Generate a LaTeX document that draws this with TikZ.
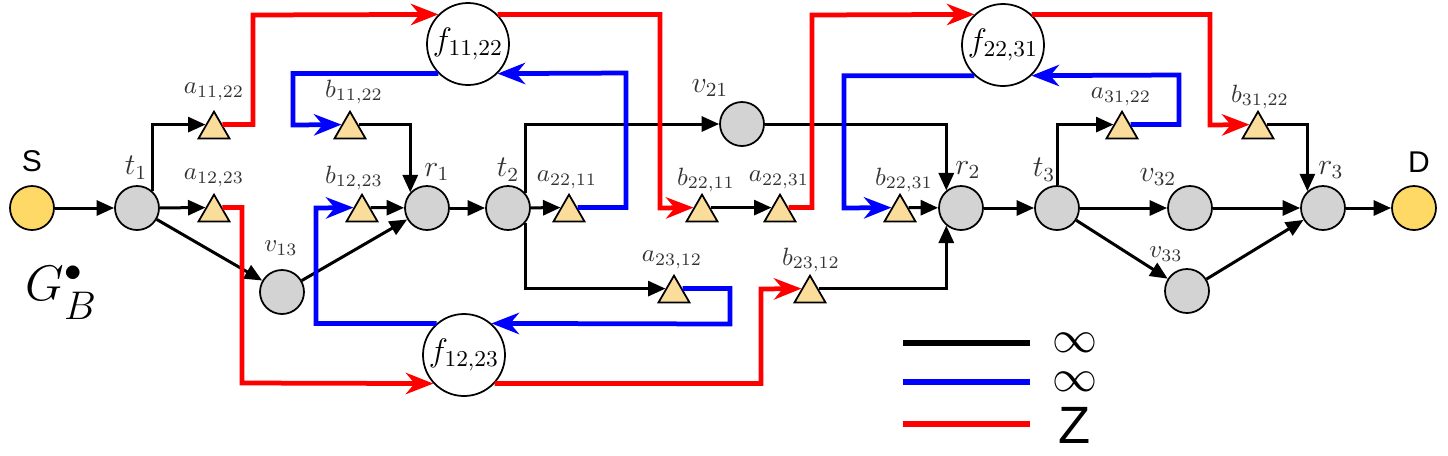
\RequirePackage{fix-cm}
\documentclass[tikz,border=0pt]{standalone}
\usepackage{fontspec}
\newfontfamily\sansf{Liberation Sans}
\usetikzlibrary{arrows.meta,shapes.geometric,calc}
\definecolor{nodegray}{RGB}{211,211,211}
\definecolor{gold}{RGB}{255,217,102}
\definecolor{trifill}{RGB}{250,220,155}
\tikzset{
 vtx/.style={circle, draw, line width=0.7pt, fill=nodegray, minimum size=17.6pt, inner sep=0pt},
 term/.style={vtx, fill=gold},
 fnode/.style={circle, draw, line width=0.7pt, fill=white, minimum size=32.8pt, inner sep=0pt, font=\fontsize{13}{15}\selectfont},
 tri/.style={regular polygon, regular polygon sides=3, draw, line width=0.7pt, fill=trifill, minimum size=14.3pt, inner sep=0pt},
 lbl/.style={text=black!80, font=\normalsize, inner sep=0pt},
 lbll/.style={lbl, font=\large},
 sanslbl/.style={inner sep=0pt, font=\sansf\fontsize{12}{14}\selectfont},
 blk/.style={line width=1.2pt, -{Triangle[length=7pt,width=6pt]}},
 redp/.style={line width=1.9pt, red, -{Stealth[length=11pt,width=8.5pt,inset=3.5pt]}},
 bluep/.style={redp, blue},
 leg/.style={line width=2.6pt},
 legtxt/.style={inner sep=0pt, font=\fontsize{18}{18}\selectfont},
}
\begin{document}
\begin{tikzpicture}[x=0.4pt,y=-0.4pt]
\useasboundingbox (0,0) rectangle (1448,455);
% vertices
\node[term] (S) at (32,208) {};
\node[vtx] (t1) at (137,208) {};
\node[vtx] (r1) at (427,208) {};
\node[vtx] (v13) at (282,292) {};
\node[vtx] (t2) at (508,208) {};
\node[vtx] (v21) at (742,124) {};
\node[vtx] (r2) at (961,208) {};
\node[vtx] (t3) at (1057,208) {};
\node[vtx] (v32) at (1190,208) {};
\node[vtx] (v33) at (1187,291) {};
\node[vtx] (r3) at (1323,208) {};
\node[term] (D) at (1414,208) {};
% triangles
\node[tri] (a1122) at (214,129.5) {};
\node[tri] (a1223) at (214,212.5) {};
\node[tri] (b1122) at (350,129.5) {};
\node[tri] (b1223) at (362,212.5) {};
\node[tri] (a2211) at (569,212.5) {};
\node[tri] (b2211) at (702,212.5) {};
\node[tri] (a2231) at (780,212.5) {};
\node[tri] (b2231) at (900,212.5) {};
\node[tri] (a2312) at (674,293.5) {};
\node[tri] (b2312) at (810,293.5) {};
\node[tri] (a3122) at (1122,129.5) {};
\node[tri] (b3122) at (1258,129.5) {};
\foreach \n in {a1122,a1223,b1122,b1223,a2211,b2211,a2231,b2231,a2312,b2312,a3122,b3122}{
  \coordinate (\n-L) at ($(\n.corner 1)!.5!(\n.corner 2)$);
  \coordinate (\n-R) at ($(\n.corner 1)!.5!(\n.corner 3)$);
}
% function nodes
\node[fnode] (f1122) at (468,44) {$f_{11,22}$};
\node[fnode] (f1223) at (464,355) {$f_{12,23}$};
\node[fnode] (f2231) at (1003,45) {$f_{22,31}$};
% labels
\node[sanslbl] (Slab) at (32,161) {S};
\node[sanslbl] (Dlab) at (1419,162) {D};
\node[lbll] (lt1) at (136,168) {$t_1$};
\node[lbll] (lr1) at (437,172) {$r_1$};
\node[lbll] (lt2) at (508,170) {$t_2$};
\node[lbll] (lr2) at (968,170) {$r_2$};
\node[lbll] (lt3) at (1044,170) {$t_3$};
\node[lbll] (lr3) at (1331,170) {$r_3$};
\node[lbll] (lv32) at (1158,177) {$v_{32}$};
\node[lbll] (lv21) at (710,88) {$v_{21}$};
\node[lbl] (lv13) at (281,248) {$v_{13}$};
\node[lbl] (lv33) at (1166,254) {$v_{33}$};
\node[lbl] (la1122) at (214,92) {$a_{11,22}$};
\node[lbl] (la1223) at (214,178) {$a_{12,23}$};
\node[lbl] (lb1122) at (354,92) {$b_{11,22}$};
\node[lbl] (lb1223) at (354,178) {$b_{12,23}$};
\node[lbl] (la2211) at (567,180) {$a_{22,11}$};
\node[lbl] (lb2211) at (706,180) {$b_{22,11}$};
\node[lbl] (la2231) at (779,180) {$a_{22,31}$};
\node[lbl] (lb2231) at (904,180) {$b_{22,31}$};
\node[lbl] (la2312) at (672,260) {$a_{23,12}$};
\node[lbl] (lb2312) at (811,260) {$b_{23,12}$};
\node[lbl] (la3122) at (1121,97) {$a_{31,22}$};
\node[lbl] (lb3122) at (1260,97) {$b_{31,22}$};
\node[anchor=base west, inner sep=0pt, font=\fontsize{20}{22}\selectfont] (GB) at (25,300) {$G^{\bullet}_{\raisebox{-3pt}{\fontsize{16}{18}\selectfont$B$}}$};
% black edges
\draw[blk] (S) -- (t1);
\draw[blk] (t1) -- (a1223-L);
\draw[blk] (t1.47) |- (a1122-L);
\draw[blk] (t1) -- (v13);
\draw[blk] (v13) -- (r1);
\draw[blk] (b1122-R) -| (r1.137);
\draw[blk] (b1223-R) -- (r1);
\draw[blk] (r1) -- (t2);
\draw[blk] (t2) -- (a2211-L);
\draw[blk] (t2.40) |- (v21);
\draw[blk] (v21) -| (r2.130);
\draw[blk] (b2211-R) -- (a2231-L);
\draw[blk] (b2231-R) -- (r2);
\draw[blk] (t2.-40) |- (a2312-L);
\draw[blk] (b2312-R) -| (r2.-130);
\draw[blk] (r2) -- (t3);
\draw[blk] (t3) |- (a3122-L);
\draw[blk] (t3) -- (v32);
\draw[blk] (v32) -- (r3);
\draw[blk] (t3) -- (v33);
\draw[blk] (v33) -- (r3);
\draw[blk] (b3122-R) -| (r3.133);
\draw[blk] (r3) -- (D);
% red paths
\draw[redp] (a1122-R) -| (253,15) -- (f1122.135);
\draw[redp] (f1122.45) -| (660,208) -- (b2211-L);
\draw[redp] (a1223-R) -| (242,383) -- (f1223.223);
\draw[redp] (f1223.-43) -| (761,289) -- (b2312-L);
\draw[redp] (a2231-R) -| (812,15) -- (f2231.133);
\draw[redp] (f2231.47) -| (1210,125) -- (b3122-L);
% blue paths
\draw[bluep] (f1122.225) -| (293,125) -- (b1122-L);
\draw[bluep] (a2211-R) -| (626,73) -- (f1122.-45);
\draw[bluep] (a2312-R) -| (730,324) -- (f1223.49);
\draw[bluep] (f1223.131) -| (316,208) -- (b1223-L);
\draw[bluep] (a3122-R) -| (1179,75) -- (f2231.-47);
\draw[bluep] (f2231.227) -| (844,208) -- (b2231-L);
% legend
\node[legtxt] (inf1) at (1075,343) {$\infty$};
\node[legtxt] (inf2) at (1075,382) {$\infty$};
\node[inner sep=0pt, font=\sansf\fontsize{21}{22}\selectfont] (zlab) at (1075,425) {Z};
\coordinate (k1) at (903,343);
\coordinate (k2) at (903,382);
\coordinate (k3) at (903,424);
\draw[leg, black] (k1) -- ++(127,0);
\draw[leg, blue] (k2) -- ++(127,0);
\draw[leg, red] (k3) -- ++(127,0);
\end{tikzpicture}
\end{document}
